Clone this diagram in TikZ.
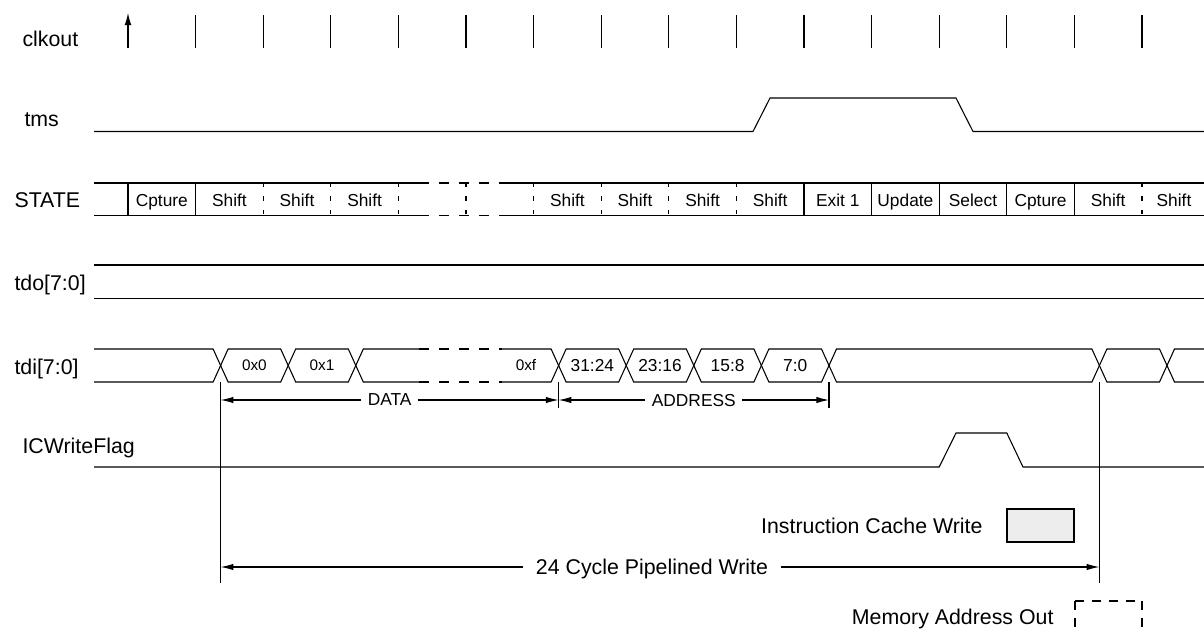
\documentclass[tikz,border=0pt]{standalone}
\usepackage{fontspec}
\setmainfont{Liberation Sans}
\usetikzlibrary{arrows.meta}

\newcommand{\signame}{\fontsize{16}{19}\selectfont}
\newcommand{\cellsz}{\fontsize{13}{15}\selectfont}
\newcommand{\hexsz}{\fontsize{11.5}{13}\selectfont}

\tikzset{
  signal/.style={anchor=base west, inner sep=0pt, font=\signame},
  statetxt/.style={anchor=base, inner sep=0pt, font=\cellsz},
  busval/.style={inner sep=0pt, font=\cellsz},
  gapline/.style={dash pattern=on 7.5pt off 7.5pt},
  sepline/.style={dash pattern=on 3.3pt off 6.8pt},
  dimtxt/.style={font=\cellsz, inner xsep=4.5pt, inner ysep=0pt, text depth=0pt},
  dimarrow/.style={-{Latex[length=9.5pt,width=4.8pt]}},
  legtxt/.style={font=\signame, inner sep=0pt, text depth=0pt},
}

\begin{document}
\begin{tikzpicture}[x=0.75pt, y=-0.75pt, line width=0.8pt]
\useasboundingbox (0,0) rectangle (1204,633);

% signal names
\node[signal] (nclk) at (22,46) {clkout};
\node[signal] (ntms) at (24,126) {tms};
\node[signal] (nstate) at (14,207) {STATE};
\node[signal] (ntdo) at (14,290) {tdo[7:0]};
\node[signal] (ntdi) at (14,374) {tdi[7:0]};
\node[signal] (nicw) at (22,453) {ICWriteFlag};

% clkout
\draw[-{Latex[length=9pt,width=5pt]}] (128,48) -- (128,13);
\foreach \k in {1,...,15}
  \draw (128+67.6*\k,15) -- (128+67.6*\k,48);

% tms
\draw (94,131.5) -- (753,131.5) -- (770,98) -- (956,98) -- (973,131.5) -- (1204,131.5);

% STATE
\foreach \y in {183,215.5} {
  \draw (94,\y) -- (419,\y);
  \draw[gapline] (419,\y) -- (502,\y);
  \draw (502,\y) -- (1204,\y);
}
\foreach \k in {0,1,10,11,12,13,14}
  \draw (128+67.6*\k,183) -- (128+67.6*\k,215.5);
\foreach \k in {2,...,9,15}
  \draw[sepline] (128+67.6*\k,183) -- (128+67.6*\k,215.5);
\foreach \k/\t in {0/Cpture,1/Shift,2/Shift,3/Shift,6/Shift,7/Shift,8/Shift,9/Shift,10/Exit 1,11/Update,12/Select,13/Cpture,14/Shift}
  \node[statetxt] (s\k) at (161.8+67.6*\k,206.5) {\t};
\node[statetxt] (s15) at (1174,206.5) {Shift};

% tdo
\draw (94,265) -- (1204,265);
\draw (94,298.5) -- (1204,298.5);

% tdi
\draw (94,349) -- (213.1,349) -- (220.6,365.5) -- (213.1,382) -- (94,382);
\foreach \a/\b in {220.6/288.2,288.2/355.8,558.6/626.2,626.2/693.8,693.8/761.4,761.4/829,829/1099.4,1099.4/1167}
  \draw (\a,365.5) -- (\a+7.5,349) -- (\b-7.5,349) -- (\b,365.5) -- (\b-7.5,382) -- (\a+7.5,382) -- cycle;
\draw (419,349) -- (363.3,349) -- (355.8,365.5) -- (363.3,382) -- (419,382);
\draw[gapline] (419,349) -- (502,349) (419,382) -- (502,382);
\draw (502,349) -- (551.1,349) -- (558.6,365.5) -- (551.1,382) -- (502,382);
\draw (1204,349) -- (1174.5,349) -- (1167,365.5) -- (1174.5,382) -- (1204,382);
\node[busval, font=\hexsz] (v0) at (254.4,365.5) {0x0};
\node[busval, font=\hexsz] (v1) at (322,365.5) {0x1};
\node[busval, font=\hexsz] (vf) at (526,365.5) {0xf};
\node[busval] (a3) at (592.4,365.5) {31:24};
\node[busval] (a2) at (660,365.5) {23:16};
\node[busval] (a1) at (727.6,365.5) {15:8};
\node[busval] (a0) at (795.2,365.5) {7:0};

% DATA / ADDRESS
\coordinate (d0) at (220.6,400);
\coordinate (d1) at (558.6,400);
\coordinate (d2) at (829,400);
\draw (220.6,382) -- (220.6,583);
\draw (558.6,382) -- (558.6,408);
\draw (829,382) -- (829,408);
\draw (1099.4,382) -- (1099.4,583);
\node[dimtxt] (data) at (389.6,400) {DATA};
\node[dimtxt] (addr) at (693.8,400) {ADDRESS};
\draw[dimarrow] (data) -- (d0);
\draw[dimarrow] (data) -- (d1);
\draw[dimarrow] (addr) -- (d1);
\draw[dimarrow] (addr) -- (d2);

% ICWriteFlag
\draw (94,467) -- (939.2,467) -- (956,433) -- (1006.8,433) -- (1023,467) -- (1204,467);

% 24 cycle write
\coordinate (w0) at (220.6,567);
\coordinate (w1) at (1099.4,567);
\node[legtxt, inner xsep=9pt] (cyc) at (652,567) {24 Cycle Pipelined Write};
\draw[dimarrow] (cyc) -- (w0);
\draw[dimarrow] (cyc) -- (w1);

% legend
\node[legtxt, anchor=east] (icw) at (983,526) {Instruction Cache Write};
\draw[fill=black!7] (1007,509) rectangle (1074,542);
\node[legtxt, anchor=east] (mao) at (1054,616.5) {Memory Address Out};
\draw[dash pattern=on 6.75pt off 6pt] (1075,601) -- (1142,601);
\draw[dash pattern=on 6.75pt off 6pt] (1075,601) -- (1075,633);
\draw[dash pattern=on 6.75pt off 6pt] (1142,601) -- (1142,633);
\end{tikzpicture}
\end{document}
